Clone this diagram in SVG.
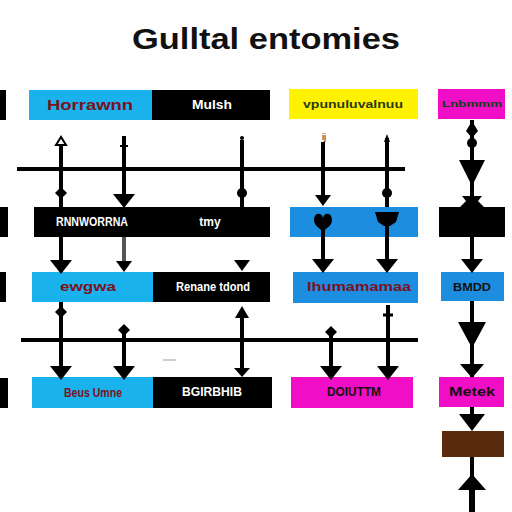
<svg xmlns="http://www.w3.org/2000/svg" width="512" height="512" viewBox="0 0 512 512">
<defs>
<style>
.t{font-family:"Liberation Sans","DejaVu Sans",sans-serif;font-weight:bold;text-anchor:middle;dominant-baseline:central;font-size:12px}
.w{fill:#ffffff}
.r{fill:#7a1020}
.k{fill:#111111}
.ln{stroke:#000;stroke-width:4;fill:none}
.cy{fill:#1ab2ec}.bl{fill:#1d8de0}.bk{fill:#000}.ye{fill:#fff200}.mg{fill:#f00fc6}.br{fill:#5a2a0e}
</style>
<path id="ah" d="M-11,-14 L11,-14 L0,0 Z" fill="#000"/>
<path id="ahs" d="M-8,-11 L8,-11 L0,0 Z" fill="#000"/>
<circle id="ball" r="5" fill="#000"/>
<path id="dia" d="M0,-6 L6,0 L0,6 L-6,0 Z" fill="#000"/>
</defs>
<rect width="512" height="512" fill="#fefefe"/>
<text x="266" y="39" font-family="Liberation Sans, sans-serif" font-weight="bold" font-size="29" text-anchor="middle" dominant-baseline="central" textLength="268" lengthAdjust="spacingAndGlyphs" fill="#111">Gulltal entomies</text>

<g id="left-marks">
<rect x="0" y="90" width="6" height="30" class="bk"/>
<rect x="0" y="207" width="8" height="30" class="bk"/>
<rect x="0" y="272" width="6" height="30" class="bk"/>
<rect x="0" y="378" width="8" height="30" class="bk"/>
</g>

<g id="row1-a"><rect x="29" y="90" width="123" height="30" class="cy"/><text x="90" y="105" class="t r" style="font-size:14px" textLength="86" lengthAdjust="spacingAndGlyphs">Horrawnn</text></g>
<g id="row1-b"><rect x="152" y="90" width="118" height="30" class="bk"/><text x="212" y="105" class="t w" textLength="40" lengthAdjust="spacingAndGlyphs">Mulsh</text></g>
<g id="row1-c"><rect x="289" y="89" width="129" height="30" class="ye"/><text x="353" y="104" class="t" fill="#2a3a10" style="font-size:11px" textLength="100" lengthAdjust="spacingAndGlyphs">vpunuluvalnuu</text></g>
<g id="row1-d"><rect x="438" y="89" width="67" height="30" class="mg"/><text x="472" y="104" class="t" fill="#0d4010" style="font-size:9px" textLength="60" lengthAdjust="spacingAndGlyphs">Lnbmmm</text></g>

<g id="row2-a"><rect x="34" y="207" width="236" height="30" class="bk"/><text x="92" y="222" class="t w" textLength="72" lengthAdjust="spacingAndGlyphs">RNNWORRNA</text><text x="210" y="222" class="t w">tmy</text></g>
<g id="row2-b"><rect x="290" y="207" width="128" height="30" class="bl"/></g>
<g id="row2-c"><rect x="439" y="207" width="66" height="30" class="bk"/></g>

<g id="row3-a"><rect x="32" y="272" width="121" height="30" class="cy"/><text x="88" y="287" class="t r" textLength="56" lengthAdjust="spacingAndGlyphs">ewgwa</text></g>
<g id="row3-b"><rect x="153" y="272" width="117" height="30" class="bk"/><text x="213" y="287" class="t w" textLength="74" lengthAdjust="spacingAndGlyphs">Renane tdond</text></g>
<g id="row3-c"><rect x="293" y="272" width="125" height="31" class="bl"/><text x="359" y="287" class="t r" textLength="104" lengthAdjust="spacingAndGlyphs">Ihumamamaa</text></g>
<g id="row3-d"><rect x="441" y="272" width="63" height="29" class="bl"/><text x="472" y="287" class="t k" style="font-size:11px" textLength="38" lengthAdjust="spacingAndGlyphs">BMDD</text></g>

<g id="row4-a"><rect x="32" y="377" width="121" height="31" class="cy"/><text x="93" y="393" class="t r" textLength="58" lengthAdjust="spacingAndGlyphs">Beus Umne</text></g>
<g id="row4-b"><rect x="153" y="377" width="119" height="31" class="bk"/><text x="212" y="392" class="t w" textLength="60" lengthAdjust="spacingAndGlyphs">BGIRBHIB</text></g>
<g id="row4-c"><rect x="291" y="377" width="122" height="31" class="mg"/><text x="354" y="392" class="t k" textLength="54" lengthAdjust="spacingAndGlyphs">DOIUTTM</text></g>
<g id="row4-d"><rect x="439" y="377" width="65" height="30" class="mg"/><text x="472" y="392" class="t k" textLength="46" lengthAdjust="spacingAndGlyphs">Metek</text></g>
<g id="brown"><rect x="442" y="431" width="62" height="26" class="br"/></g>

<g id="connectors">
<line x1="17" y1="169" x2="405" y2="169" class="ln"/>
<line x1="21" y1="340" x2="418" y2="340" class="ln"/>
<line x1="61" y1="146" x2="61" y2="207" class="ln"/>
<path d="M56,145 L61,137 L66,145 Z" fill="#fff" stroke="#000" stroke-width="2"/>
<use href="#dia" x="61" y="193"/>
<line x1="61" y1="237" x2="61" y2="262" class="ln"/>
<use href="#ah" x="61" y="274"/>
<line x1="61" y1="302" x2="61" y2="366" class="ln"/>
<use href="#dia" x="61" y="312"/>
<use href="#ah" x="61" y="380"/>
<line x1="124" y1="136" x2="124" y2="195" class="ln"/>
<line x1="120" y1="146" x2="128" y2="146" stroke="#000" stroke-width="2"/>
<use href="#ah" x="124" y="208"/>
<line x1="124" y1="237" x2="124" y2="262" stroke="#555" stroke-width="4"/>
<use href="#ahs" x="124" y="272"/>
<line x1="124" y1="330" x2="124" y2="366" class="ln"/>
<use href="#dia" x="124" y="330"/>
<use href="#ah" x="124" y="380"/>
<line x1="242" y1="140" x2="242" y2="207" class="ln"/>
<circle cx="242" cy="138" r="2" fill="#000"/>
<use href="#ball" x="242" y="193"/>
<use href="#ahs" x="242" y="271"/>
<line x1="242" y1="314" x2="242" y2="368" class="ln"/>
<path d="M235,318 L242,306 L249,318 Z" fill="#000"/>
<path d="M234,368 L250,368 L242,377 Z" fill="#000"/>
<line x1="323" y1="142" x2="323" y2="195" class="ln"/>
<text x="324" y="140" font-family="Liberation Sans, sans-serif" font-size="9" text-anchor="middle" fill="#000">ij</text>
<use href="#ahs" x="323" y="206"/>
<path d="M314,220 C314,212 322,212 323,218 C324,212 332,212 332,220 C332,226 326,228 323,232 C320,228 314,226 314,220 Z" fill="#000"/>
<line x1="323" y1="230" x2="323" y2="262" class="ln"/>
<use href="#ah" x="323" y="273"/>
<line x1="331" y1="330" x2="331" y2="366" class="ln"/>
<use href="#dia" x="331" y="332"/>
<use href="#ah" x="331" y="380"/>
<line x1="387" y1="138" x2="387" y2="207" class="ln"/>
<path d="M384,142 L387,134 L390,142 Z" fill="#000"/>
<use href="#ball" x="387" y="193"/>
<path d="M375,212 L399,212 L396,222 L390,226 L384,226 L378,222 Z" fill="#000"/>
<line x1="387" y1="224" x2="387" y2="262" class="ln"/>
<use href="#ah" x="387" y="273"/>
<line x1="388" y1="305" x2="388" y2="366" class="ln"/>
<line x1="383" y1="315" x2="393" y2="315" stroke="#000" stroke-width="3"/>
<use href="#ah" x="388" y="380"/>
<line x1="472" y1="120" x2="472" y2="207" class="ln"/>
<path d="M472,121 L478,131 L472,138 L466,131 Z" fill="#000"/>
<ellipse cx="472" cy="143" rx="5" ry="5" fill="#000"/>
<path d="M459,160 L485,160 L474,182 L470,182 Z" fill="#000"/>
<path d="M462,196 L482,196 L478,201 L484,207 L460,207 L466,201 Z" fill="#000"/>
<line x1="472" y1="237" x2="472" y2="262" class="ln"/>
<use href="#ah" x="472" y="273"/>
<line x1="472" y1="301" x2="472" y2="377" class="ln"/>
<path d="M458,322 L486,322 L472,348 Z" fill="#000"/>
<path d="M460,364 L484,364 L472,378 Z" fill="#000"/>
<line x1="472" y1="407" x2="472" y2="420" class="ln"/>
<path d="M459,414 L485,414 L472,431 Z" fill="#000"/>
<line x1="472" y1="457" x2="472" y2="512" class="ln"/>
<path d="M458,490 L472,474 L486,490 Z" fill="#000"/>
<line x1="472" y1="490" x2="472" y2="512" stroke="#000" stroke-width="6"/>
<line x1="163" y1="360" x2="176" y2="360" stroke="#bbb" stroke-width="1.5"/>
</g>
</svg>
